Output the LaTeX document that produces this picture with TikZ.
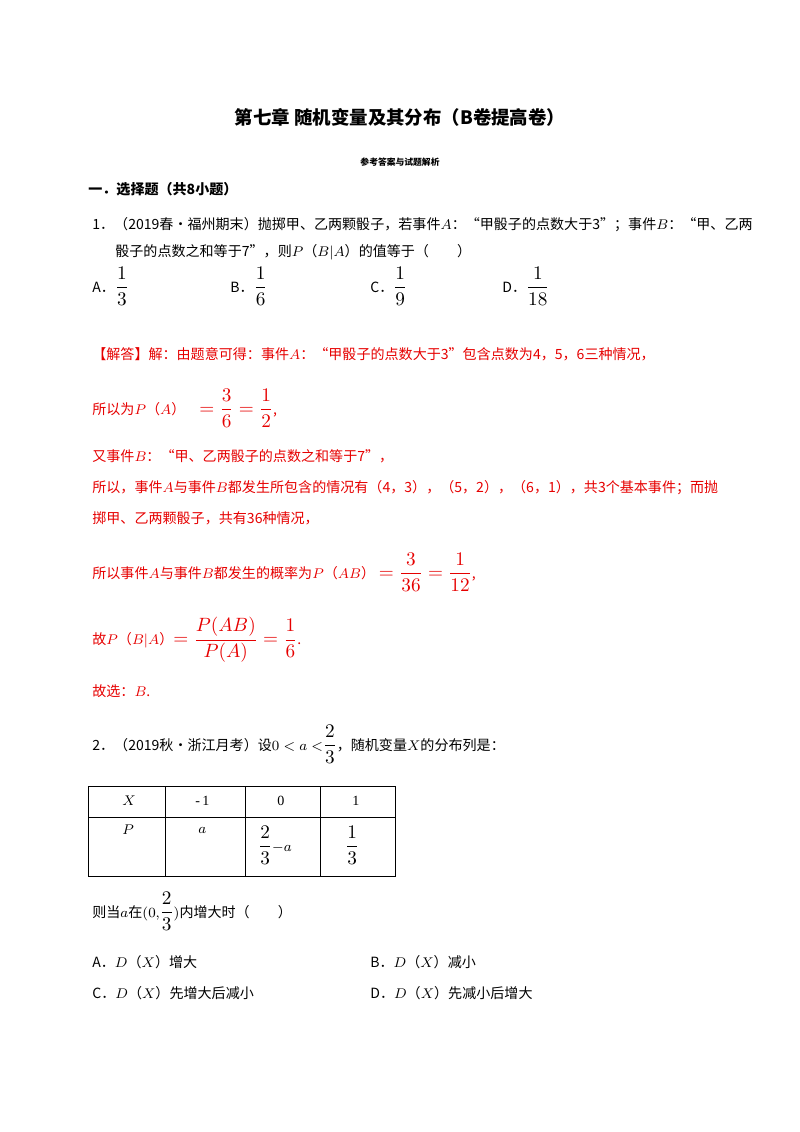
\documentclass[tikz,border=0pt]{standalone}
\usepackage{fontspec}
\setmainfont{Noto Sans CJK SC}
\newfontfamily\lat{Liberation Serif}
\definecolor{ans}{RGB}{230,0,0}
\newcommand{\fracbig}[1]{{\fontsize{11}{13}\selectfont$\displaystyle #1$}}
\begin{document}
\begin{tikzpicture}[x=0.02cm,y=-0.02cm,
 txt/.style={anchor=west,inner sep=0,font=\fontsize{8}{9}\selectfont},
 rtxt/.style={txt,text=ans},
 tl/.style={draw,line width=0.5pt}]
\useasboundingbox (0,0) rectangle (800,1132);
\node[font=\fontsize{10.5}{12}\selectfont\bfseries] (title) at (400,117) {第七章 随机变量及其分布（B卷提高卷）};
\node[font=\fontsize{5}{6}\selectfont\bfseries] (sub) at (400,162) {参考答案与试题解析};
\node[txt,font=\fontsize{8}{9}\selectfont\bfseries] (sec) at (88,189) {一．选择题（共8小题）};
\node[txt] (q1a) at (92,225) {1．（2019春•福州期末）抛掷甲、乙两颗骰子，若事件$A$：“甲骰子的点数大于3”；事件$B$：“甲、乙两};
\node[txt] (q1b) at (115,252) {骰子的点数之和等于7”，则$P$（$B|A$）的值等于（\quad\quad）};
\node[txt] (oa) at (92,286) {A．\fracbig{\frac{1}{3}}};
\node[txt] (ob) at (230,286) {B．\fracbig{\frac{1}{6}}};
\node[txt] (oc) at (370,286) {C．\fracbig{\frac{1}{9}}};
\node[txt] (od) at (502,286) {D．\fracbig{\frac{1}{18}}};
\node[rtxt] (s1) at (92,354) {【解答】解：由题意可得：事件$A$：“甲骰子的点数大于3”包含点数为4，5，6三种情况，};
\node[rtxt] (s2) at (92,408) {所以为$P$（$A$）\quad\fracbig{=\frac{3}{6}=\frac{1}{2}},};
\node[rtxt] (s3) at (92,456) {又事件$B$：“甲、乙两骰子的点数之和等于7”，};
\node[rtxt] (s4) at (92,488) {所以，事件$A$与事件$B$都发生所包含的情况有（4，3），（5，2），（6，1），共3个基本事件；而抛};
\node[rtxt] (s5) at (92,518) {掷甲、乙两颗骰子，共有36种情况，};
\node[rtxt] (s6) at (92,572) {所以事件$A$与事件$B$都发生的概率为$P$（$AB$）\;\fracbig{=\frac{3}{36}=\frac{1}{12}},};
\node[rtxt] (s7) at (92,640) {故$P$（$B|A$）\fracbig{=\frac{P(AB)}{P(A)}=\frac{1}{6}}.};
\node[rtxt] (s8) at (92,691) {故选：$B$.};
\node[txt] (q2) at (92,744) {2．（2019秋•浙江月考）设$0<a<$\fracbig{\frac{2}{3}}，随机变量$X$的分布列是：};
\draw[tl] (88,786) rectangle (395,876);
\draw[tl] (88,817) -- (395,817);
\draw[tl] (165,786) -- (165,876);
\draw[tl] (245,786) -- (245,876);
\draw[tl] (320,786) -- (320,876);
\node[txt] (c1) at (122,801) {$X$};
\node[txt] (c2) at (195,801) {\lat -\,1};
\node[txt] (c3) at (277,801) {\lat 0};
\node[txt] (c4) at (352,801) {\lat 1};
\node[txt] (d1) at (122,830) {$P$};
\node[txt] (d2) at (198,830) {$a$};
\node[txt] (d3) at (258,845) {\fracbig{\frac{2}{3}}$-a$};
\node[txt] (d4) at (345,845) {\fracbig{\frac{1}{3}}};
\node[txt] (q2b) at (92,911) {则当$a$在$(0,$\fracbig{\frac{2}{3}}$)$内增大时（\quad\quad）};
\node[txt] (pa) at (92,962) {A．$D$（$X$）增大};
\node[txt] (pb) at (370,962) {B．$D$（$X$）减小};
\node[txt] (pc) at (92,993) {C．$D$（$X$）先增大后减小};
\node[txt] (pd) at (370,993) {D．$D$（$X$）先减小后增大};
\end{tikzpicture}
\end{document}
